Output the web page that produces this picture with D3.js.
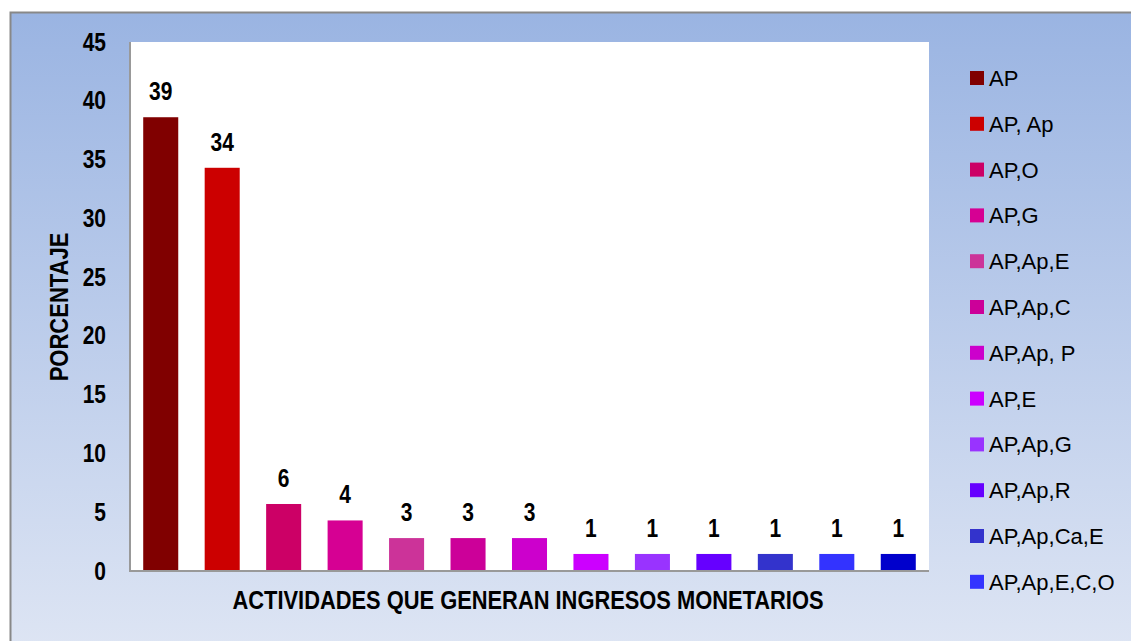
<!DOCTYPE html>
<html>
<head>
<meta charset="utf-8">
<script src="https://cdn.jsdelivr.net/npm/d3@7"></script>
<style>
  html, body { margin: 0; padding: 0; background: #fff; }
  svg { display: block; }
  text { font-family: "Liberation Sans", Arial, sans-serif; }
</style>
</head>
<body>
<svg id="chart" width="1131" height="641"></svg>
<script>
const categories = ["AP", "AP, Ap", "AP,O", "AP,G", "AP,Ap,E", "AP,Ap,C", "AP,Ap, P", "AP,E", "AP,Ap,G", "AP,Ap,R", "AP,Ap,Ca,E", "AP,Ap,E,C,O", "(13)"];
const values = [38.6, 34.3, 5.7, 4.3, 2.8, 2.8, 2.8, 1.45, 1.45, 1.45, 1.45, 1.45, 1.45];
const valueLabels = ["39", "34", "6", "4", "3", "3", "3", "1", "1", "1", "1", "1", "1"];
const colors = ["#800000", "#CC0000", "#CC0066", "#D60093", "#CC3399", "#CC0099", "#CC00CC", "#CC00FF", "#9933FF", "#6600FF", "#3333CC", "#3333FF", "#0000CC"];
const legendCount = 12;
const yTicks = [0, 5, 10, 15, 20, 25, 30, 35, 40, 45];
const yTitle = "PORCENTAJE";
const xTitle = "ACTIVIDADES QUE GENERAN INGRESOS MONETARIOS";

const svg = d3.select("#chart");
const W = 1131, H = 641;
const NARROW = 0.84;

// background gradient
const defs = svg.append("defs");
const grad = defs.append("linearGradient").attr("id", "bg").attr("x1", 0).attr("y1", 0).attr("x2", 0).attr("y2", 1);
grad.append("stop").attr("offset", "0%").attr("stop-color", "#9AB4E2");
grad.append("stop").attr("offset", "100%").attr("stop-color", "#DFE6F4");

svg.append("rect").attr("x", 10.5).attr("y", 12.5).attr("width", W + 10).attr("height", H + 10)
  .attr("fill", "url(#bg)").attr("stroke", "#888").attr("stroke-width", 2);

const plot = { left: 130, right: 929, top: 42, bottom: 571 };

svg.append("rect").attr("x", plot.left).attr("y", plot.top)
  .attr("width", plot.right - plot.left).attr("height", plot.bottom - plot.top)
  .attr("fill", "#fff");

const x = d3.scaleBand().domain(categories).range([plot.left, plot.right]).paddingInner(0.43).paddingOuter(0.215);
const y = d3.scaleLinear().domain([0, 45]).range([plot.bottom, plot.top]);

// bars
svg.append("g").selectAll("rect").data(categories).join("rect")
  .attr("x", d => x(d))
  .attr("y", (d, i) => y(values[i]))
  .attr("width", x.bandwidth())
  .attr("height", (d, i) => y(0) - y(values[i]))
  .attr("fill", (d, i) => colors[i]);

// value labels
svg.append("g").selectAll("text").data(categories).join("text")
  .attr("transform", (d, i) => `translate(${x(d) + x.bandwidth() / 2},${y(values[i]) - 17}) scale(${NARROW},1)`)
  .attr("text-anchor", "middle")
  .attr("font-size", 25).attr("font-weight", "bold").attr("fill", "#000")
  .text((d, i) => valueLabels[i]);

// axes lines
svg.append("line").attr("x1", plot.left).attr("x2", plot.left).attr("y1", plot.top).attr("y2", plot.bottom + 1)
  .attr("stroke", "#999").attr("stroke-width", 2);
svg.append("line").attr("x1", plot.left - 1).attr("x2", plot.right).attr("y1", plot.bottom).attr("y2", plot.bottom)
  .attr("stroke", "#999").attr("stroke-width", 2);

// y axis tick labels
const yAxis = d3.axisLeft(y).tickValues(yTicks).tickSize(0).tickPadding(0);
const ya = svg.append("g").attr("transform", `translate(106,0)`).call(yAxis);
ya.select(".domain").remove();
ya.selectAll("text").attr("font-size", 25).attr("font-weight", "bold").attr("fill", "#000")
  .attr("font-family", "'Liberation Sans', Arial, sans-serif")
  .attr("transform", `scale(${NARROW},1)`);

// y title
svg.append("text").attr("transform", "translate(68,307) rotate(-90) scale(0.88,1)")
  .attr("text-anchor", "middle").attr("font-size", 25).attr("font-weight", "bold").text(yTitle);

// x title
svg.append("text").attr("transform", "translate(528,609) scale(0.875,1)")
  .attr("text-anchor", "middle").attr("font-size", 25).attr("font-weight", "bold").text(xTitle);

// legend
const lg = svg.append("g");
const items = categories.slice(0, legendCount);
const row = lg.selectAll("g").data(items).join("g")
  .attr("transform", (d, i) => `translate(970, ${71 + i * 45.8})`);
row.append("rect").attr("width", 14).attr("height", 14).attr("fill", (d, i) => colors[i]);
row.append("text").attr("x", 19).attr("y", 15).attr("font-size", 22).attr("fill", "#000").text(d => d);
</script>
</body>
</html>
